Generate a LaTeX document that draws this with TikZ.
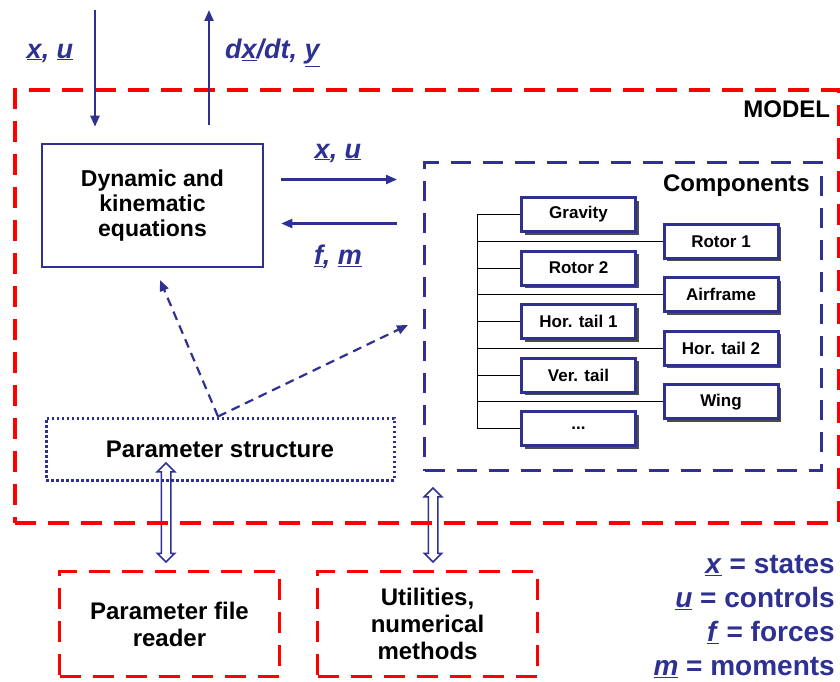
\documentclass[tikz,border=0pt]{standalone}
\usepackage{fontspec}
\setmainfont{Liberation Sans}
\usepackage{tikz}
\usetikzlibrary{arrows.meta, matrix, positioning, shadows, shapes.arrows}
\definecolor{navy}{RGB}{46,49,146}
\newcommand{\uvar}[1]{\underline{\textit{#1}}}
\newcommand{\fsz}[2]{\fontsize{#1}{#2}\selectfont\bfseries}

\begin{document}
\begin{tikzpicture}[x=1pt, y=-1pt,
  redbox/.style={draw=red, line width=3.5pt, dash pattern=on 21pt off 12pt, inner sep=0pt, align=center, font=\fsz{24}{27}},
  eqbox/.style={draw=navy, line width=2.5pt, minimum width=221pt, minimum height=123pt, align=center, font=\fsz{23}{25}},
  compbox/.style={draw=navy, line width=3pt, dash pattern=on 20pt off 12pt, minimum width=397pt, minimum height=308pt},
  parbox/.style={draw=navy, line width=3pt, dash pattern=on 2.5pt off 2.5pt, minimum width=348pt, minimum height=62pt, font=\fsz{24}{28}},
  comp/.style={draw=navy, line width=3pt, fill=white, minimum width=114pt, minimum height=34pt, anchor=center, font=\fsz{17}{19},
    drop shadow={shadow xshift=3pt, shadow yshift=-3pt, fill=black!70, opacity=1}},
  flow/.style={navy, line width=2.2pt, -{Triangle[length=11pt, width=9pt]}},
  dflow/.style={flow, dash pattern=on 9pt off 6pt},
  link/.style={double arrow, draw=navy, line width=1.5pt, inner sep=4pt, double arrow head extend=4pt, rotate=90},
  sig/.style={navy, inner sep=0pt, font=\fsz{27}{30}\itshape},
  title/.style={inner sep=0pt, font=\fsz{24}{27}}]
\useasboundingbox (0,0) rectangle (840,682);
% links to the outside
\node[link, minimum height=99pt] (prLink) at (166,512.5) {};
\node[link, minimum height=74pt] (utLink) at (433,525) {};
%
\node[redbox, minimum width=824pt, minimum height=433pt] (model) at (427,306.5) {};
\node[title, below left=12pt and 10.5pt of model.north east] (modelLab) {MODEL};
\node[eqbox] (dyn) at (152.5,205.5) {Dynamic and\\kinematic\\equations};
\node[compbox] (comps) at (623,316.5) {};
\node[title, below left=13.5pt and 13pt of comps.north east] (compLab) {Components};
\node[parbox] (param) at (220,449) {Parameter structure};
\node[redbox, minimum width=220pt, minimum height=105pt] (reader) at (169.5,624) {Parameter file\\reader};
\node[redbox, minimum width=220pt, minimum height=105pt] (utils) at (427.5,624) {Utilities,\\numerical\\methods};
%
\matrix (parts) [matrix of nodes, nodes={comp},
         row sep={26.75pt,between origins},
         column sep={142.5pt,between origins},
         matrix anchor=grav.center] at (578.5,214.5)
{
|(grav)| Gravity     & \\
                     & |(rotA)| Rotor 1 \\
|(rotB)| Rotor 2     & \\
                     & |(frame)| Airframe \\
|(htA)| Hor. tail 1  & \\
                     & |(htB)| Hor. tail 2 \\
|(vt)| Ver. tail     & \\
                     & |(wing)| Wing \\
|(more)| ...         & \\
};
\coordinate (trunk) at (477,0);
\draw[line width=1pt] (grav.west -| trunk) -- (more.west -| trunk);
\foreach \n in {grav,rotA,rotB,frame,htA,htB,vt,wing,more}
  \draw[line width=1pt] (\n.west -| trunk) -- (\n.west);
%
\coordinate (inTop) at (95,10);
\coordinate (outTop) at (209,10);
\draw[flow, shorten >=16pt] (inTop) -- (inTop |- dyn.north);
\draw[flow, shorten <=18pt] (outTop |- dyn.north) -- (outTop);
\node[sig] (inLab) at (50,53) {\uvar{x}, \uvar{u}};
\node[sig, anchor=west] (outLab) at (225,53) {d\uvar{x}/dt, \uvar{y}};
%
\draw[flow, shorten <=17pt, shorten >=26pt] ([yshift=26pt]dyn.east) -- ([yshift=26pt]dyn.east -| comps.west);
\draw[flow, shorten <=26pt, shorten >=17pt] ([yshift=-18pt]dyn.east -| comps.west) -- ([yshift=-18pt]dyn.east);
\node[sig] (xuLab) at (338,153) {\uvar{x}, \uvar{u}};
\node[sig] (fmLab) at (338,257) {\uvar{f}, \uvar{m}};
%
\coordinate (dynIn) at (160,280);
\coordinate (compIn) at (408,325);
\draw[dflow] ([xshift=-2pt]param.north) -- (dynIn);
\draw[dflow] ([xshift=-2pt]param.north) -- (compIn);
%
\node[sig, font=\fsz{28}{34}, align=right, anchor=north east] (legend) at (835,555)
  {\uvar{x} = states\\\uvar{u} = controls\\\uvar{f} = forces\\\uvar{m} = moments};
\end{tikzpicture}
\end{document}
